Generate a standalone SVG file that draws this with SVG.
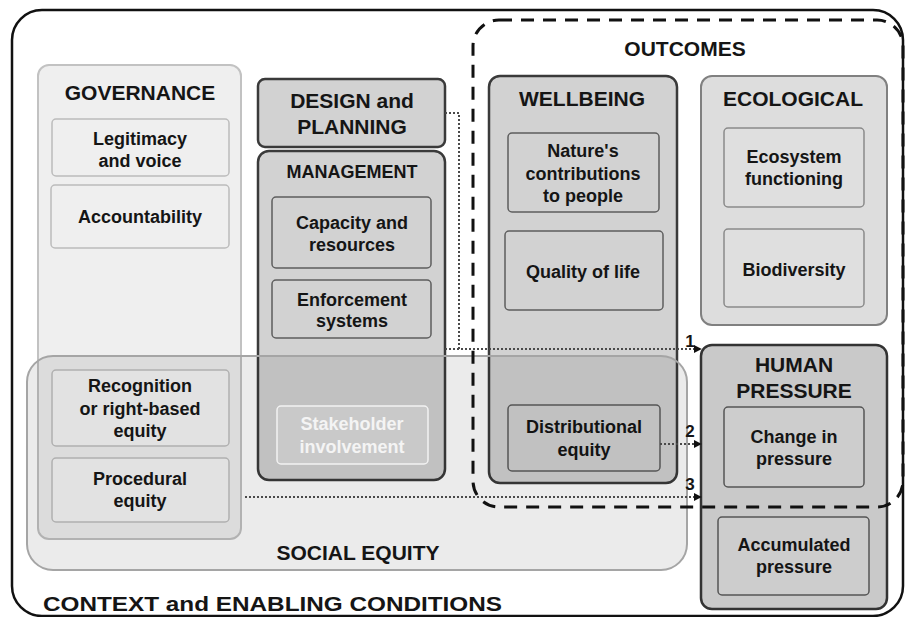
<svg xmlns="http://www.w3.org/2000/svg" width="905" height="617" viewBox="0 0 905 617">
  <style>
    text { font-family: "Liberation Sans", Arial, sans-serif; font-weight: bold; fill: #151515; text-anchor: middle; }
    .hd { font-size: 21px; }
    .it { font-size: 18px; }
    .lbl { font-size: 17px; }
    .frame { fill: #ffffff; stroke: #111; stroke-width: 2.5; }
    .pale { fill: #efefef; stroke: #c2c2c2; stroke-width: 2; }
    .pale-it { fill: #efefef; stroke: #bcbcbc; stroke-width: 1.5; }
    .dark { fill: #d2d2d2; stroke: #3a3a3a; stroke-width: 2.5; }
    .dark-it { fill: #d2d2d2; stroke: #5e5e5e; stroke-width: 1.5; }
    .eco { fill: #dddddd; stroke: #808080; stroke-width: 2; }
    .eco-it { fill: #dfdfdf; stroke: #8a8a8a; stroke-width: 1.5; }
    .hp { fill: #c9c9c9; stroke: #333; stroke-width: 2.5; }
    .hp-it { fill: #cdcdcd; stroke: #555; stroke-width: 1.5; }
    .equity { fill: #000; fill-opacity: 0.08; stroke: #a5a5a5; stroke-width: 2; }
    .eq-it { fill: #e2e2e2; stroke: #b0b0b0; stroke-width: 1.5; }
    .faded { fill: #c9c9c9; stroke: #f2f2f2; stroke-width: 1.5; }
    .faded-t { fill: #f4f4f4; }
    .outcomes { fill: none; stroke: #111; stroke-width: 3; stroke-dasharray: 13 9; }
    .dot { fill: none; stroke: #4a4a4a; stroke-width: 2; stroke-dasharray: 2 2; }
  </style>
  <defs>
    <marker id="tip" viewBox="0 0 10 10" refX="9" refY="5" markerWidth="4" markerHeight="4" orient="auto" markerUnits="strokeWidth">
      <path d="M0,0 L10,5 L0,10 z" fill="#111"/>
    </marker>
  </defs>

  <!-- outer frame: context and enabling conditions -->
  <g id="context">
    <rect class="frame" x="12" y="10" width="891" height="606" rx="30"/>
    <text x="43" y="611" style="font-size:21px;text-anchor:start" textLength="459" lengthAdjust="spacingAndGlyphs">CONTEXT and ENABLING CONDITIONS</text>
  </g>

  <!-- governance column -->
  <g id="governance">
    <rect class="pale" x="38" y="65" width="203" height="474" rx="11"/>
    <text class="hd" x="140" y="100">GOVERNANCE</text>
    <rect class="pale-it" x="52" y="119" width="177" height="57" rx="4"/>
    <text class="it" x="140" y="145">Legitimacy</text>
    <text class="it" x="140" y="167">and voice</text>
    <rect class="pale-it" x="51" y="185" width="178" height="63" rx="4"/>
    <text class="it" x="140" y="223">Accountability</text>
  </g>

  <!-- design and planning -->
  <g id="design">
    <rect class="dark" x="258" y="79" width="187" height="68" rx="7"/>
    <text class="hd" x="352" y="108">DESIGN and</text>
    <text class="hd" x="352" y="134">PLANNING</text>
  </g>

  <!-- management -->
  <g id="management">
    <rect class="dark" x="258" y="151" width="187" height="329" rx="11"/>
    <text class="it" x="352" y="178">MANAGEMENT</text>
    <rect class="dark-it" x="272" y="197" width="159" height="71" rx="4"/>
    <text class="it" x="352" y="229">Capacity and</text>
    <text class="it" x="352" y="251">resources</text>
    <rect class="dark-it" x="272" y="280" width="159" height="58" rx="4"/>
    <text class="it" x="352" y="306">Enforcement</text>
    <text class="it" x="352" y="327">systems</text>
  </g>

  <!-- wellbeing outcomes -->
  <g id="wellbeing">
    <rect class="dark" x="489" y="76" width="188" height="407" rx="11"/>
    <text class="hd" x="582" y="106">WELLBEING</text>
    <rect class="dark-it" x="508" y="133" width="151" height="79" rx="4"/>
    <text class="it" x="583" y="157">Nature's</text>
    <text class="it" x="583" y="180">contributions</text>
    <text class="it" x="583" y="202">to people</text>
    <rect class="dark-it" x="505" y="231" width="158" height="79" rx="4"/>
    <text class="it" x="583" y="278">Quality of life</text>
    <rect class="dark-it" x="508" y="405" width="152" height="66" rx="4"/>
    <text class="it" x="584" y="433">Distributional</text>
    <text class="it" x="584" y="456">equity</text>
  </g>

  <!-- ecological outcomes -->
  <g id="ecological">
    <rect class="eco" x="701" y="76" width="186" height="249" rx="11"/>
    <text class="hd" x="793" y="106">ECOLOGICAL</text>
    <rect class="eco-it" x="724" y="128" width="140" height="79" rx="4"/>
    <text class="it" x="794" y="163">Ecosystem</text>
    <text class="it" x="794" y="185">functioning</text>
    <rect class="eco-it" x="724" y="229" width="140" height="78" rx="4"/>
    <text class="it" x="794" y="276">Biodiversity</text>
  </g>

  <!-- human pressure -->
  <g id="human-pressure">
    <rect class="hp" x="701" y="345" width="186" height="264" rx="11"/>
    <text class="hd" x="794" y="372">HUMAN</text>
    <text class="hd" x="794" y="398">PRESSURE</text>
    <rect class="hp-it" x="724" y="407" width="140" height="80" rx="4"/>
    <text class="it" x="794" y="443">Change in</text>
    <text class="it" x="794" y="465">pressure</text>
    <rect class="hp-it" x="718" y="517" width="151" height="78" rx="4"/>
    <text class="it" x="794" y="551">Accumulated</text>
    <text class="it" x="794" y="573">pressure</text>
  </g>

  <!-- social equity band, shaded over the columns it crosses -->
  <g id="social-equity">
    <rect class="equity" x="27" y="356" width="660" height="214" rx="26"/>
    <text class="hd" x="358" y="560">SOCIAL EQUITY</text>
    <rect class="eq-it" x="52" y="370" width="177" height="76" rx="4"/>
    <text class="it" x="140" y="392">Recognition</text>
    <text class="it" x="140" y="415">or right-based</text>
    <text class="it" x="140" y="437">equity</text>
    <rect class="eq-it" x="52" y="458" width="177" height="64" rx="4"/>
    <text class="it" x="140" y="485">Procedural</text>
    <text class="it" x="140" y="507">equity</text>
  </g>

  <!-- stakeholder involvement (faded element inside management) -->
  <g id="stakeholder">
    <rect class="faded" x="277" y="406" width="151" height="58" rx="4"/>
    <text class="it faded-t" x="352" y="430">Stakeholder</text>
    <text class="it faded-t" x="352" y="453">involvement</text>
  </g>

  <!-- outcomes envelope -->
  <g id="outcomes">
    <rect class="outcomes" x="473" y="20" width="430" height="487" rx="26"/>
    <text class="hd" x="685" y="56">OUTCOMES</text>
  </g>

  <!-- dotted links into human pressure -->
  <g id="connectors">
    <path class="dot" d="M445,113 H459 V349"/>
    <path class="dot" d="M445,349 H701" marker-end="url(#tip)"/>
    <path class="dot" d="M660,444 H701" marker-end="url(#tip)"/>
    <path class="dot" d="M245,497 H701" marker-end="url(#tip)"/>
    <text class="lbl" x="690" y="347">1</text>
    <text class="lbl" x="690" y="437">2</text>
    <text class="lbl" x="690" y="490">3</text>
  </g>
</svg>
